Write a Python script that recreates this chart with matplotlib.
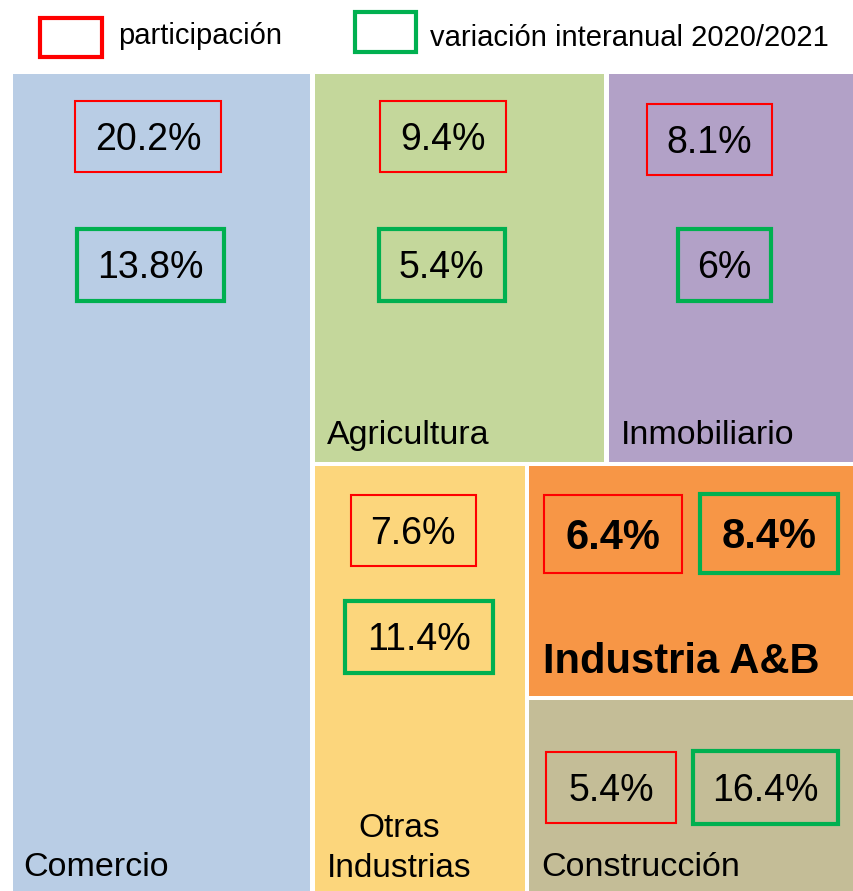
import matplotlib.pyplot as plt
from matplotlib.patches import Rectangle

# datos
sectores = ["Comercio", "Agricultura", "Inmobiliario", "Otras\nIndustrias", "Industria A&B", "Construcción"]
participacion = [20.2, 9.4, 8.1, 7.6, 6.4, 5.4]
variacion = [13.8, 5.4, 6, 11.4, 8.4, 16.4]
colores = ["#B9CDE5", "#C4D79B", "#B2A1C7", "#FCD67C", "#F79646", "#C4BD97"]

DPI = 100
W, H = 854, 891
ROJO = "#FF0000"
VERDE = "#00B050"

fig = plt.figure(figsize=(W / DPI, H / DPI), dpi=DPI)
ax = fig.add_axes([0, 0, 1, 1])
ax.set_xlim(0, W)
ax.set_ylim(H, 0)
ax.axis("off")

# area del treemap (se corta por abajo y a la derecha)
X0, Y0, X1, Y1 = 13, 74, 860, 896
GAP = 4.5


def treemap(vals):
    """Comercio a la izquierda, el resto en dos filas."""
    tot = sum(vals)
    rects = []
    wc = (X1 - X0) * vals[0] / tot
    rects.append((X0, Y0, wc, Y1 - Y0))
    xr = X0 + wc
    wr = X1 - xr
    resto = sum(vals[1:])
    # fila superior
    ht = (Y1 - Y0) * (vals[1] + vals[2]) / resto
    wa = wr * vals[1] / (vals[1] + vals[2])
    rects.append((xr, Y0, wa, ht))
    rects.append((xr + wa, Y0, wr - wa, ht))
    # fila inferior
    yb = Y0 + ht
    hb = Y1 - yb
    wo = wr * vals[3] / (vals[3] + vals[4] + vals[5])
    rects.append((xr, yb, wo, hb))
    hi = hb * vals[4] / (vals[4] + vals[5])
    rects.append((xr + wo, yb, wr - wo, hi))
    rects.append((xr + wo, yb + hi, wr - wo, hb - hi))
    return rects


rects = treemap(participacion)

for (x, y, w, h), c in zip(rects, colores):
    l = GAP / 2 if x > X0 + 0.5 else 0
    t = GAP / 2 if y > Y0 + 0.5 else 0
    r = GAP / 2 if x + w < X1 - 0.5 else 0
    b = GAP / 2 if y + h < Y1 - 0.5 else 0
    ax.add_patch(Rectangle((x + l, y + t), w - l - r, h - t - b, facecolor=c, edgecolor="none"))

NARROW = ["Liberation Sans Narrow", "Liberation Sans"]
SANS = ["Liberation Sans", "DejaVu Sans"]


def px(pt):
    return pt * DPI / 72


# cajas: (dx, dy, ancho, alto) desde la esquina superior izquierda de cada celda
caja_part = [(62, 27, 146, 71), (67, 27, 126, 71), (40, 30, 125, 71),
             (38, 31, 125, 71), (17, 31, 138, 78), (19, 54, 130, 71)]
caja_var = [(64, 155, 147, 72), (66, 155, 126, 72), (71, 155, 93, 72),
            (32, 137, 148, 72), (173, 30, 138, 79), (166, 53, 145, 73)]
destacado = [False, False, False, False, True, False]


def caja(x, y, w, h, color, lw, texto, bold):
    ax.add_patch(Rectangle((x, y), w, h, facecolor="none", edgecolor=color, linewidth=lw))
    if bold:
        fs, fam, wt = 30, SANS, "bold"
    else:
        fs, fam, wt = 27, NARROW, "normal"
    ax.text(x + w / 2, y + h / 2 + 0.716 * px(fs) / 2, texto, ha="center", va="baseline",
            fontsize=fs, family=fam, fontweight=wt, color="black")


for i, (x, y, w, h) in enumerate(rects):
    dx, dy, bw, bh = caja_part[i]
    caja(x + dx, y + dy, bw, bh, ROJO, 1.5, f"{participacion[i]:g}%", destacado[i])
    dx, dy, bw, bh = caja_var[i]
    caja(x + dx, y + dy, bw, bh, VERDE, 3, f"{variacion[i]:g}%", destacado[i])

# nombres de los sectores (linea base desde el borde inferior de la celda)
fs_lab = 24.5
for i, (x, y, w, h) in enumerate(rects):
    nombre = sectores[i]
    if i == 3:
        ax.text(x + 87, y + h - 19, nombre, ha="center", va="baseline",
                fontsize=24, family=SANS, linespacing=1.37)
    elif i == 4:
        ax.text(x + 16, y + h - 25, nombre, ha="left", va="baseline",
                fontsize=30, family=SANS, fontweight="bold")
    else:
        ax.text(x + (10 if i == 0 else 14), y + h - 20, nombre, ha="left",
                va="baseline", fontsize=fs_lab, family=SANS)

# leyenda
ax.add_patch(Rectangle((40, 18), 62, 39, facecolor="none", edgecolor=ROJO, linewidth=3))
ax.text(118, 36, "participación", ha="left", va="center", fontsize=21, family=SANS)
ax.add_patch(Rectangle((355, 12), 61, 40, facecolor="none", edgecolor=VERDE, linewidth=3))
ax.text(430, 38, "variación interanual 2020/2021", ha="left", va="center", fontsize=21, family=SANS)

fig.savefig("out.png", dpi=DPI)
